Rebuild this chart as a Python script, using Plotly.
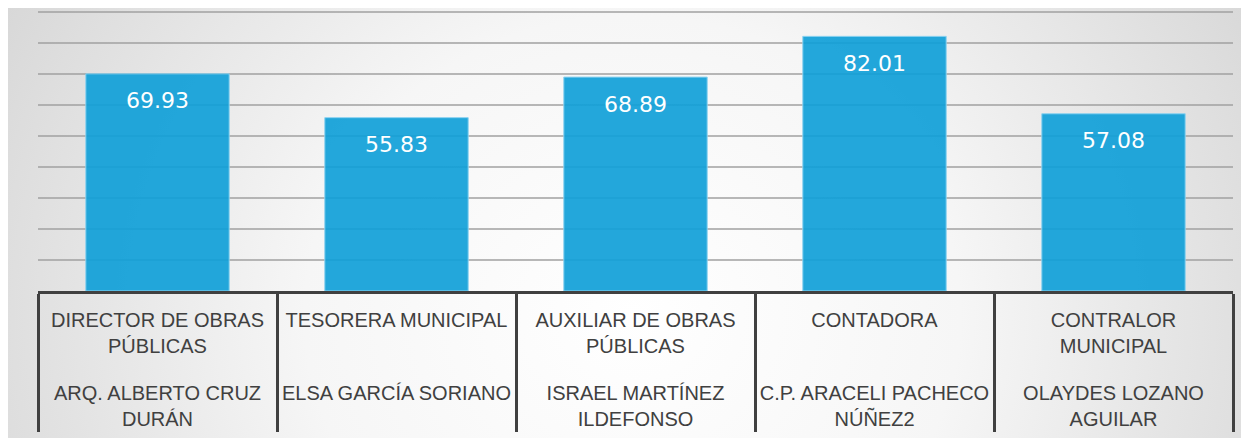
import base64
import plotly.graph_objects as go

# ---- data ----
titles = ["DIRECTOR DE OBRAS<br>PÚBLICAS", "TESORERA MUNICIPAL", "AUXILIAR DE OBRAS<br>PÚBLICAS",
          "CONTADORA", "CONTRALOR<br>MUNICIPAL"]
names = ["ARQ. ALBERTO CRUZ<br>DURÁN", "ELSA GARCÍA SORIANO", "ISRAEL MARTÍNEZ<br>ILDEFONSO",
         "C.P. ARACELI PACHECO<br>NÚÑEZ2", "OLAYDES LOZANO<br>AGUILAR"]
values = [69.93, 55.83, 68.89, 82.01, 57.08]

# inner level labels get an invisible spacer line so the outer level sits lower
inner = [t + "<br><span style='font-size:48px'>\u00a0</span>" for t in titles]

W, H = 1249, 438
ML, MR, MT, MB = 30, 24, 2, 155
PW, PH = W - ML - MR, H - MT - MB

svg = f'''<svg xmlns="http://www.w3.org/2000/svg" width="{W}" height="{H}" viewBox="0 0 {W} {H}" preserveAspectRatio="none">
<defs><radialGradient id="g" cx="0.5" cy="0.7" r="0.75" gradientTransform="translate(0.5 0.7) scale(1 2.6) translate(-0.5 -0.7)">
<stop offset="0" stop-color="#ffffff"/><stop offset="0.35" stop-color="#f6f6f6"/><stop offset="1" stop-color="#c6c6c6"/>
</radialGradient></defs>
<rect width="{W}" height="{H}" fill="url(#g)"/></svg>'''
src = "data:image/svg+xml;base64," + base64.b64encode(svg.encode()).decode()

fig = go.Figure()
fig.add_trace(go.Bar(
    x=[names, inner], y=values,
    marker=dict(color="rgba(16,160,216,0.92)", line=dict(color="rgba(140,210,240,1)", width=1)),
    width=0.6,
))

for i, v in enumerate(values):
    fig.add_annotation(x=i, y=v, xref="x", yref="y", text=f"{v:.2f}", showarrow=False,
                       yanchor="middle", yshift=-27,
                       font=dict(family="DejaVu Sans", size=22, color="white"))

fig.add_layout_image(source=src, xref="paper", yref="paper",
                     x=-ML / PW, y=1 + MT / PH, sizex=W / PW, sizey=H / PH,
                     xanchor="left", yanchor="top", sizing="stretch", layer="below")

fig.update_layout(
    width=W, height=H,
    margin=dict(l=ML, r=MR, t=MT, b=MB, pad=0),
    paper_bgcolor="#c9c9c9", plot_bgcolor="rgba(0,0,0,0)",
    showlegend=False,
    bargap=0.4,
)
fig.update_yaxes(range=[0, 90.5], dtick=10, showticklabels=False, gridcolor="rgba(160,160,160,0.75)",
                 gridwidth=1.5, zeroline=False, showline=False)
fig.update_xaxes(type="multicategory", showline=True, linecolor="#404040", linewidth=3,
                 showdividers=True, dividercolor="#404040", dividerwidth=3,
                 tickfont=dict(family="Liberation Sans", size=20, color="#404040"),
                 ticklabelstandoff=9, showgrid=False, ticks="")

fig.write_html("out.html")
